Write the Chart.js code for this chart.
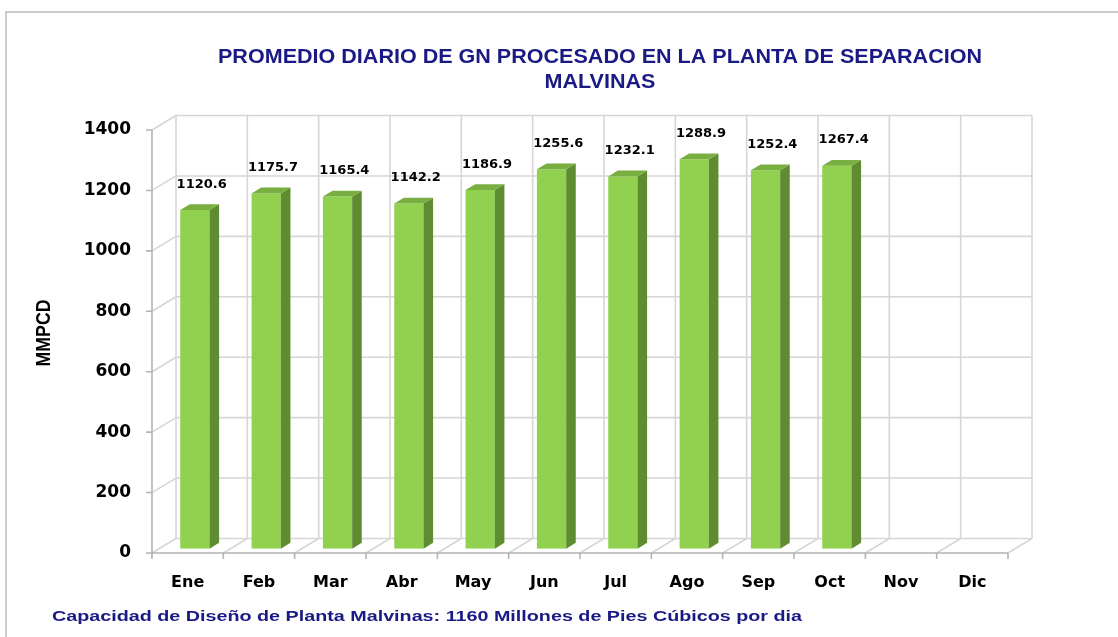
<!DOCTYPE html>
<html>
<head>
<meta charset="utf-8">
<script src="https://cdn.jsdelivr.net/npm/chart.js@4/dist/chart.umd.min.js"></script>
<style>
html,body{margin:0;padding:0;background:#fff;}
canvas{display:block;}
</style>
</head>
<body>
<canvas id="c" width="1118" height="637"></canvas>
<script>
const months = ['Ene','Feb','Mar','Abr','May','Jun','Jul','Ago','Sep','Oct','Nov','Dic'];
const values = [1120.6, 1175.7, 1165.4, 1142.2, 1186.9, 1255.6, 1232.1, 1288.9, 1252.4, 1267.4, null, null];
const yMin = 0, yMax = 1400, yStep = 200;
const titleLines = ['PROMEDIO DIARIO DE GN PROCESADO EN LA PLANTA DE SEPARACION', 'MALVINAS'];
const yAxisTitle = 'MMPCD';
const footerText = 'Capacidad de Diseño de Planta Malvinas: 1160 Millones de Pies Cúbicos por dia';

const DX = 24, DY = -14.5;          // depth of 3D box
const F0 = 0.3, FD = 0.4;           // bar front offset and depth (fractions)
const NAVY = '#1a1a84';

function fitText(ctx, text, x, y, targetW, font, align, rot) {
  ctx.save();
  ctx.font = font;
  const w = ctx.measureText(text).width;
  const s = targetW / w;
  ctx.translate(x, y);
  if (rot) ctx.rotate(rot);
  ctx.scale(s, 1);
  ctx.textAlign = align;
  ctx.textBaseline = 'middle';
  ctx.fillText(text, 0, 0);
  ctx.restore();
}

const threeD = {
  id: 'threeD',
  beforeDraw(chart) {
    const ctx = chart.ctx;
    ctx.save();
    ctx.fillStyle = '#fff';
    ctx.fillRect(0, 0, chart.width, chart.height);
    ctx.strokeStyle = '#BDBDBD';
    ctx.lineWidth = 1.5;
    ctx.beginPath();
    ctx.moveTo(6, 640); ctx.lineTo(6, 12); ctx.lineTo(1125, 12);
    ctx.stroke();
    // titles
    const tf = 'bold 21px "Liberation Sans"';
    ctx.fillStyle = NAVY;
    ctx.font = tf;
    const w1 = ctx.measureText(titleLines[0]).width;
    const s = 764 / w1;
    const w2 = ctx.measureText(titleLines[1]).width * s;
    fitText(ctx, titleLines[0], 600, 57, 764, tf, 'center');
    fitText(ctx, titleLines[1], 600, 82, w2, tf, 'center');
    // axis title
    ctx.fillStyle = '#000';
    fitText(ctx, yAxisTitle, 44.5, 333, 67, 'bold 20px "Liberation Sans"', 'center', -Math.PI / 2);
    // footer
    ctx.fillStyle = NAVY;
    fitText(ctx, footerText, 52, 617, 750, 'bold 15.5px "Liberation Sans"', 'left');
    ctx.restore();
  },
  beforeDatasetsDraw(chart) {
    const ctx = chart.ctx;
    const xs = chart.scales.x, ys = chart.scales.y, a = chart.chartArea;
    ctx.save();
    // back wall & left wall grid
    ctx.strokeStyle = '#D6D6D6';
    ctx.lineWidth = 1.6;
    ctx.beginPath();
    for (let v = yMin; v <= yMax; v += yStep) {
      const y = ys.getPixelForValue(v);
      ctx.moveTo(a.left + DX, y + DY); ctx.lineTo(a.right + DX, y + DY);
      ctx.moveTo(a.left, y); ctx.lineTo(a.left + DX, y + DY);
    }
    for (let i = 0; i <= months.length; i++) {
      const x = xs.getPixelForValue(i - 0.5);
      ctx.moveTo(x + DX, a.top + DY); ctx.lineTo(x + DX, a.bottom + DY);
      ctx.moveTo(x, a.bottom); ctx.lineTo(x + DX, a.bottom + DY);
    }
    ctx.stroke();
    // front axes
    ctx.strokeStyle = '#B4B4B4';
    ctx.lineWidth = 1.6;
    ctx.beginPath();
    ctx.moveTo(a.left, a.top); ctx.lineTo(a.left, a.bottom); ctx.lineTo(a.right, a.bottom);
    for (let v = yMin; v <= yMax; v += yStep) {
      const y = ys.getPixelForValue(v);
      ctx.moveTo(a.left - 6, y); ctx.lineTo(a.left, y);
    }
    for (let i = 0; i <= months.length; i++) {
      const x = xs.getPixelForValue(i - 0.5);
      ctx.moveTo(x, a.bottom); ctx.lineTo(x, a.bottom + 6);
    }
    ctx.stroke();
    ctx.restore();
    // shift the front faces of the bars into depth
    ctx.save();
    ctx.translate(DX * F0, DY * F0);
  },
  afterDatasetsDraw(chart) {
    const ctx = chart.ctx;
    ctx.restore();
    ctx.save();
    const meta = chart.getDatasetMeta(0);
    const fx = DX * F0, fy = DY * F0, bx = DX * FD, by = DY * FD;
    meta.data.forEach((el, i) => {
      const v = values[i];
      if (v === null || v === undefined) return;
      const p = el.getProps(['x', 'y', 'base', 'width'], true);
      const x0 = p.x - p.width / 2 + fx, x1 = p.x + p.width / 2 + fx;
      const yT = p.y + fy, yB = p.base + fy;
      // side
      ctx.fillStyle = '#5F8C31';
      ctx.beginPath();
      ctx.moveTo(x1, yT); ctx.lineTo(x1 + bx, yT + by); ctx.lineTo(x1 + bx, yB + by); ctx.lineTo(x1, yB);
      ctx.closePath(); ctx.fill();
      // top
      ctx.fillStyle = '#79AE40';
      ctx.beginPath();
      ctx.moveTo(x0, yT); ctx.lineTo(x1, yT); ctx.lineTo(x1 + bx, yT + by); ctx.lineTo(x0 + bx, yT + by);
      ctx.closePath(); ctx.fill();
      // label
      ctx.fillStyle = '#000';
      ctx.font = 'bold 13px "DejaVu Sans"';
      ctx.textAlign = 'center';
      ctx.textBaseline = 'middle';
      ctx.fillText(v.toFixed(1), p.x + DX * 0.5 + 2, yT + by - 20);
    });
    ctx.restore();
  }
};

new Chart(document.getElementById('c'), {
  type: 'bar',
  data: {
    labels: months,
    datasets: [{
      data: values,
      backgroundColor: '#92D050',
      borderWidth: 0,
      barPercentage: 0.41,
      categoryPercentage: 1.0
    }]
  },
  options: {
    responsive: false,
    animation: false,
    devicePixelRatio: 1,
    layout: { padding: { top: 130, right: 110, left: 0, bottom: 0 } },
    plugins: { legend: { display: false }, tooltip: { enabled: false }, title: { display: false } },
    scales: {
      x: {
        grid: { display: false, drawTicks: false },
        border: { display: false },
        ticks: { color: '#000', font: { family: 'DejaVu Sans', weight: 'bold', size: 16 }, padding: 20, maxRotation: 0, autoSkip: false },
        afterFit(s) { s.height = 84; }
      },
      y: {
        min: yMin, max: yMax,
        grid: { display: false, drawTicks: false },
        border: { display: false },
        ticks: { stepSize: yStep, color: '#000', font: { family: 'DejaVu Sans', weight: 'bold', size: 17 }, padding: 21,
                 callback: (v) => String(v) },
        afterFit(s) { s.width = 152; }
      }
    }
  },
  plugins: [threeD]
});
</script>
</body>
</html>
